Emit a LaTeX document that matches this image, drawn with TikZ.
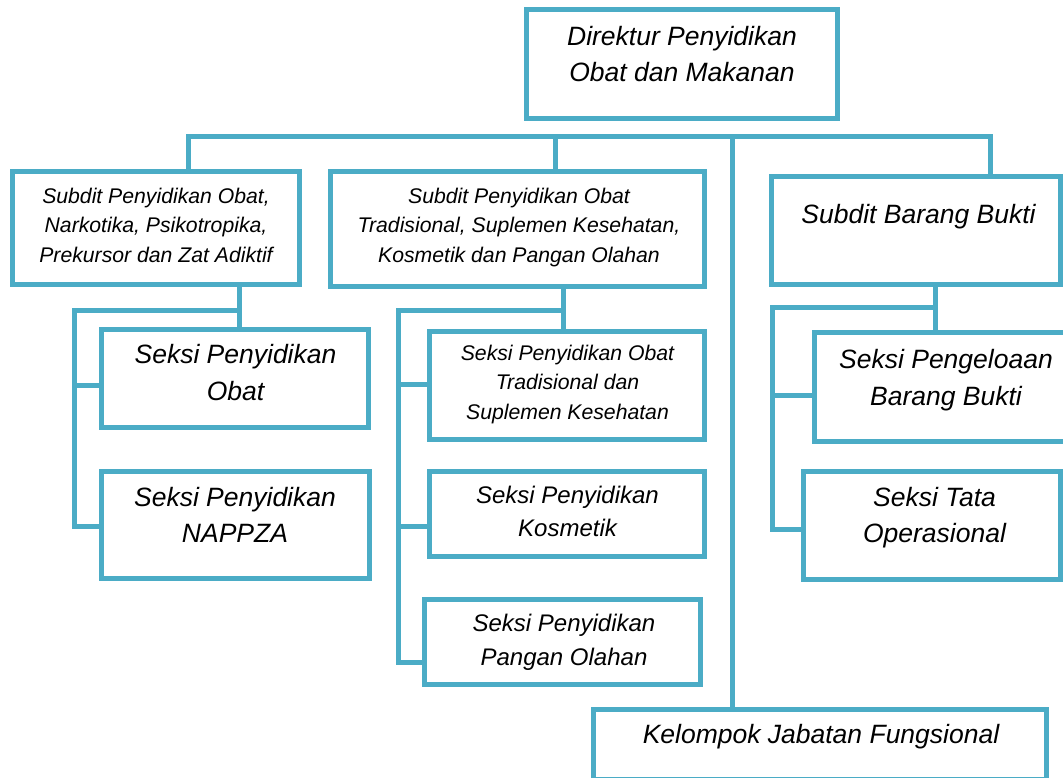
\documentclass[tikz,border=0pt]{standalone}
\usepackage{fontspec}
\setmainfont{Liberation Sans}
\usetikzlibrary{fit}
\definecolor{bl}{RGB}{75,172,198}
\begin{document}
\begin{tikzpicture}[x=1pt,y=-1pt,
  box/.style={draw=bl, line width=5pt, rectangle, inner sep=0pt, outer sep=0pt},
  conn/.style={draw=bl, line width=5pt, line join=miter},
  tL/.style={font=\fontsize{26.5}{36.7}\selectfont\itshape, align=center, anchor=north, inner sep=0pt},
  tM/.style={font=\fontsize{24}{33.4}\selectfont\itshape, align=center, anchor=north, inner sep=0pt},
  tS/.style={font=\fontsize{21.2}{29.5}\selectfont\itshape, align=center, anchor=north, inner sep=0pt}]
\useasboundingbox (0,0) rectangle (1063,778);
\clip (0,0) rectangle (1063,778);
% boxes
\node[box, fit={(526.5,10) (837,119)}] (dir) {};
\node[box, fit={(12.5,172) (299,284.5)}] (lsub) {};
\node[box, fit={(330,172) (704.5,286)}] (msub) {};
\node[box, fit={(771,177) (1060.5,284.5)}] (rsub) {};
\node[box, fit={(101,329) (368,427)}] (sobat) {};
\node[box, fit={(101,471) (369,578)}] (snap) {};
\node[box, fit={(429,331) (704.5,439)}] (sot) {};
\node[box, fit={(429,471) (704.5,556.5)}] (skos) {};
\node[box, fit={(424.5,599) (700,684.5)}] (span) {};
\node[box, fit={(814.5,332.5) (1077.5,441.7)}] (speng) {};
\node[box, fit={(803,471) (1060.5,579)}] (stata) {};
\node[box, fit={(593,709) (1046,779.5)}] (kjf) {};
% texts
\node[tL] (tdir) at (682,25.8) {Direktur Penyidikan\\Obat dan Makanan};
\node[tS] (tlsub) at (156,187.6) {Subdit Penyidikan Obat,\\Narkotika, Psikotropika,\\Prekursor dan Zat Adiktif};
\node[tS] (tmsub) at (519,187.6) {Subdit Penyidikan Obat\\Tradisional, Suplemen Kesehatan,\\Kosmetik dan Pangan Olahan};
\node[tL] (trsub) at (918.5,204.1) {Subdit Barang Bukti};
\node[tL] (tsobat) at (235.5,344.1) {Seksi Penyidikan\\Obat};
\node[tL] (tsnap) at (235,486.8) {Seksi Penyidikan\\NAPPZA};
\node[tS] (tsot) at (567.5,344.6) {Seksi Penyidikan Obat\\Tradisional dan\\Suplemen Kesehatan};
\node[tM] (tskos) at (567.5,485.9) {Seksi Penyidikan\\Kosmetik};
\node[tM] (tspan) at (564,614.3) {Seksi Penyidikan\\Pangan Olahan};
\node[tL] (tspeng) at (946,349.1) {Seksi Pengeloaan\\Barang Bukti};
\node[tL] (tstata) at (934.5,486.8) {Seksi Tata\\Operasional};
\node[tL] (tkjf) at (821,723.8) {Kelompok Jabatan Fungsional};
% bus
\coordinate (busL) at (188.5,136.5);
\coordinate (busR) at (990,136.5);
\coordinate (busM) at (555.5,136.5);
\coordinate (busC) at (732.5,136.5);
\draw[conn] (busL |- lsub.north) -- (busL) -- (busR) -- (busR |- rsub.north);
\draw[conn] (busM) -- (busM |- msub.north);
\draw[conn] (busC) -- (busC |- kjf.north);
% left branch
\coordinate (lA) at (239,310);
\coordinate (lL) at (74,310);
\coordinate (l1) at (74,385);
\coordinate (lB) at (74,526.5);
\draw[conn] (lA |- lsub.south) -- (lA |- sobat.north);
\draw[conn] (lA) -- (lL) -- (lB) -- (lB -| snap.west);
\draw[conn] (l1) -- (l1 -| sobat.west);
% middle branch
\coordinate (mA) at (563.5,310);
\coordinate (mL) at (398.5,310);
\coordinate (m1) at (398.5,384);
\coordinate (m2) at (398.5,526);
\coordinate (mB) at (398.5,662.5);
\draw[conn] (mA |- msub.south) -- (mA |- sot.north);
\draw[conn] (mA) -- (mL) -- (mB) -- (mB -| span.west);
\draw[conn] (m1) -- (m1 -| sot.west);
\draw[conn] (m2) -- (m2 -| skos.west);
% right branch
\coordinate (rA) at (935.5,307.5);
\coordinate (rL) at (772,307.5);
\coordinate (r1) at (772,395);
\coordinate (rB) at (772,529);
\draw[conn] (rA |- rsub.south) -- (rA |- speng.north);
\draw[conn] (rA) -- (rL) -- (rB) -- (rB -| stata.west);
\draw[conn] (r1) -- (r1 -| speng.west);
\end{tikzpicture}
\end{document}
